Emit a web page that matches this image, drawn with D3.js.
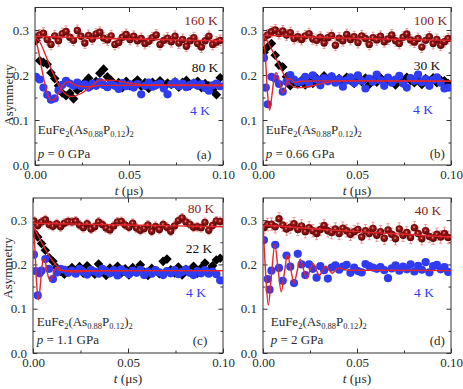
<!DOCTYPE html>
<html><head><meta charset="utf-8">
<script src="https://cdn.jsdelivr.net/npm/d3@7"></script>
<style>body{margin:0;background:#fff}svg{display:block}text{font-family:"Liberation Serif","Times New Roman",serif}</style>
</head><body>
<svg id="c" width="463" height="389"></svg>
<script>
// ---------- DATA ----------
const times = [0.0005,0.0025,0.0045,0.0065,0.0085,0.0105,0.0125,0.0145,0.0165,0.0185,0.0205,0.0225,0.0245,0.0265,0.0285,0.0305,0.0325,0.0345,0.0365,0.0385,0.0405,0.0425,0.0445,0.0465,0.0485,0.0505,0.0525,0.0545,0.0565,0.0585,0.0605,0.0625,0.0645,0.0665,0.0685,0.0705,0.0725,0.0745,0.0765,0.0785,0.0805,0.0825,0.0845,0.0865,0.0885,0.0905,0.0925,0.0945,0.0965,0.0985];
const xTicks = [0, 0.05, 0.1];
const xMinor = [0.025, 0.075];
const yTicks = [0, 0.1, 0.2, 0.3];
const yMinor = [0.05, 0.15, 0.25];

// panel (a) p = 0 GPa
const a160 = [0.284,0.289,0.293,0.279,0.268,0.287,0.276,0.292,0.297,0.284,0.277,0.299,0.286,0.271,0.288,0.280,0.291,0.295,0.282,0.278,0.287,0.268,0.272,0.284,0.290,0.279,0.286,0.276,0.281,0.270,0.275,0.283,0.289,0.268,0.277,0.282,0.274,0.286,0.271,0.279,0.264,0.276,0.283,0.270,0.262,0.276,0.286,0.268,0.273,0.277];
const a80 = [0.276,0.232,0.228,0.224,0.205,0.192,0.176,0.160,0.154,0.160,0.147,0.166,0.172,0.184,0.193,0.178,0.186,0.204,0.213,0.196,0.188,0.177,0.183,0.172,0.186,0.176,0.181,0.189,0.175,0.183,0.170,0.184,0.178,0.187,0.174,0.182,0.179,0.185,0.173,0.184,0.188,0.176,0.182,0.186,0.172,0.181,0.176,0.168,0.156,0.194];
const a4 = [0.196,0.190,0.172,0.156,0.145,0.148,0.166,0.178,0.187,0.181,0.176,0.183,0.175,0.179,0.172,0.181,0.176,0.184,0.178,0.173,0.180,0.176,0.169,0.182,0.175,0.179,0.172,0.180,0.157,0.176,0.183,0.174,0.178,0.181,0.170,0.157,0.179,0.184,0.175,0.181,0.173,0.178,0.182,0.176,0.180,0.171,0.165,0.177,0.181,0.175];
const fitA160T = [0, 0.025, 0.05, 0.075, 0.1];
const fitA160V = [0.286, 0.283, 0.280, 0.278, 0.276];
const fitA80T = [0, 0.003, 0.006, 0.01, 0.014, 0.0195, 0.025, 0.03, 0.0346, 0.042, 0.05, 0.06, 0.1];
const fitA80V = [0.286, 0.270, 0.240, 0.200, 0.168, 0.152, 0.160, 0.175, 0.189, 0.188, 0.182, 0.178, 0.178];
const fitA4T = [0, 0.002, 0.004, 0.0065, 0.0088, 0.0115, 0.014, 0.0176, 0.0226, 0.028, 0.035, 0.05, 0.1];
const fitA4V = [0.286, 0.250, 0.205, 0.160, 0.143, 0.152, 0.172, 0.185, 0.176, 0.174, 0.177, 0.177, 0.176];

// panel (b) p = 0.66 GPa
const b100 = [0.283,0.289,0.296,0.300,0.292,0.298,0.289,0.294,0.281,0.285,0.279,0.287,0.292,0.280,0.277,0.284,0.271,0.283,0.288,0.266,0.282,0.276,0.290,0.279,0.285,0.272,0.287,0.281,0.268,0.283,0.278,0.286,0.274,0.280,0.289,0.276,0.270,0.284,0.291,0.278,0.273,0.281,0.262,0.277,0.285,0.270,0.279,0.266,0.274,0.281];
const b30 = [0.250,0.262,0.270,0.244,0.222,0.218,0.196,0.176,0.185,0.180,0.188,0.178,0.186,0.181,0.193,0.187,0.198,0.190,0.196,0.186,0.192,0.183,0.195,0.188,0.181,0.190,0.185,0.193,0.179,0.189,0.184,0.194,0.182,0.190,0.186,0.178,0.191,0.184,0.195,0.188,0.183,0.190,0.179,0.192,0.186,0.194,0.183,0.189,0.187,0.181];
const b4 = [0.238,0.135,0.196,0.192,0.180,0.163,0.185,0.200,0.190,0.184,0.186,0.196,0.181,0.199,0.190,0.177,0.193,0.186,0.197,0.183,0.191,0.174,0.188,0.195,0.182,0.199,0.187,0.170,0.192,0.185,0.201,0.188,0.176,0.194,0.183,0.190,0.198,0.181,0.172,0.193,0.187,0.201,0.184,0.191,0.176,0.189,0.195,0.183,0.170,0.172];
const b4ExtraT = [0.0015];
const b4ExtraV = [0.172];
const fitB100T = [0, 0.01, 0.03, 0.05, 0.075, 0.1];
const fitB100V = [0.288, 0.287, 0.284, 0.281, 0.279, 0.277];
const fitB30T = [0, 0.003, 0.006, 0.01, 0.014, 0.018, 0.024, 0.032, 0.042, 0.06, 0.1];
const fitB30V = [0.288, 0.270, 0.245, 0.210, 0.182, 0.172, 0.174, 0.182, 0.187, 0.187, 0.186];
const fitB4T = [0, 0.0012, 0.0024, 0.0035, 0.0046, 0.0058, 0.007, 0.0088, 0.0105, 0.012, 0.0135, 0.0152, 0.017, 0.02, 0.03, 0.1];
const fitB4V = [0.288, 0.245, 0.160, 0.122, 0.150, 0.190, 0.205, 0.185, 0.160, 0.172, 0.192, 0.190, 0.183, 0.186, 0.187, 0.186];

// panel (c) p = 1.1 GPa
const c80 = [0.298,0.288,0.296,0.301,0.290,0.286,0.292,0.285,0.293,0.297,0.296,0.298,0.289,0.283,0.292,0.280,0.285,0.296,0.290,0.282,0.278,0.287,0.296,0.297,0.289,0.284,0.293,0.282,0.277,0.281,0.289,0.275,0.286,0.279,0.290,0.284,0.275,0.287,0.299,0.305,0.296,0.291,0.284,0.285,0.283,0.295,0.277,0.288,0.298,0.297];
const c22 = [0.272,0.262,0.247,0.232,0.215,0.207,0.193,0.184,0.178,0.186,0.193,0.183,0.195,0.180,0.197,0.186,0.178,0.201,0.189,0.175,0.192,0.184,0.196,0.181,0.190,0.176,0.193,0.187,0.199,0.183,0.175,0.191,0.186,0.179,0.207,0.212,0.188,0.181,0.194,0.176,0.189,0.185,0.196,0.180,0.192,0.203,0.186,0.197,0.210,0.214];
const c4 = [0.222,0.130,0.186,0.212,0.190,0.167,0.182,0.190,0.188,0.181,0.186,0.179,0.190,0.183,0.177,0.188,0.184,0.179,0.190,0.185,0.180,0.187,0.175,0.189,0.183,0.178,0.186,0.181,0.188,0.176,0.184,0.179,0.187,0.182,0.176,0.185,0.180,0.187,0.178,0.183,0.189,0.181,0.176,0.185,0.180,0.187,0.179,0.184,0.178,0.164];
const c4ExtraT = [0.0015, 0.0035];
const c4ExtraV = [0.185, 0.180];
const fitC80T = [0, 0.05, 0.1];
const fitC80V = [0.293, 0.289, 0.285];
const fitC22T = [0, 0.003, 0.006, 0.009, 0.012, 0.015, 0.018, 0.022, 0.03, 0.06, 0.1];
const fitC22V = [0.287, 0.262, 0.238, 0.216, 0.199, 0.188, 0.184, 0.183, 0.185, 0.186, 0.186];
const fitC4T = [0, 0.001, 0.002, 0.0028, 0.0038, 0.0046, 0.0055, 0.0065, 0.0075, 0.009, 0.0105, 0.012, 0.014, 0.02, 0.1];
const fitC4V = [0.290, 0.235, 0.150, 0.120, 0.150, 0.190, 0.213, 0.205, 0.182, 0.163, 0.175, 0.193, 0.186, 0.186, 0.186];

// panel (d) p = 2 GPa
const d40 = [0.283,0.290,0.291,0.285,0.303,0.289,0.280,0.284,0.292,0.279,0.287,0.274,0.283,0.276,0.270,0.279,0.288,0.276,0.272,0.280,0.270,0.282,0.276,0.268,0.274,0.279,0.262,0.276,0.270,0.281,0.266,0.274,0.259,0.278,0.268,0.258,0.280,0.266,0.272,0.261,0.283,0.270,0.258,0.276,0.263,0.259,0.268,0.262,0.270,0.261];
const d4 = [0.255,0.167,0.186,0.244,0.192,0.163,0.220,0.195,0.158,0.224,0.200,0.176,0.200,0.190,0.170,0.196,0.187,0.168,0.193,0.198,0.188,0.195,0.199,0.181,0.193,0.185,0.182,0.201,0.196,0.193,0.190,0.194,0.187,0.169,0.191,0.198,0.186,0.195,0.189,0.200,0.184,0.197,0.188,0.205,0.182,0.196,0.199,0.189,0.194,0.183];
const d4ExtraT = [0.0035];
const d4ExtraV = [0.143];
const fitD40T = [0, 0.001, 0.025, 0.05, 0.075, 0.1];
const fitD40V = [0.287, 0.288, 0.281, 0.274, 0.268, 0.262];
const fitD4T = [0, 0.0014, 0.0028, 0.00455, 0.0063, 0.008, 0.0097, 0.01135, 0.013, 0.01475, 0.0165, 0.01815, 0.0198, 0.0215, 0.0232, 0.0249, 0.0266, 0.0283, 0.030, 0.0317, 0.0334, 0.0351, 0.0368, 0.0384, 0.040, 0.045, 0.06, 0.1];
const fitD4V = [0.287, 0.180, 0.108, 0.178, 0.245, 0.190, 0.138, 0.180, 0.222, 0.190, 0.157, 0.185, 0.212, 0.190, 0.168, 0.186, 0.202, 0.188, 0.175, 0.186, 0.196, 0.188, 0.180, 0.186, 0.192, 0.187, 0.187, 0.186];

// ---------- DRAW ----------
const svg = d3.select("#c");
const defs = svg.append("defs");
const grad = defs.append("radialGradient").attr("id","sph").attr("cx","45%").attr("cy","42%").attr("r","60%");
grad.append("stop").attr("offset","0%").attr("stop-color","#e8a0a0");
grad.append("stop").attr("offset","30%").attr("stop-color","#9a1616");
grad.append("stop").attr("offset","100%").attr("stop-color","#520404");

const zip = (t, v) => t.map((d, i) => ({t: d, v: v[i]}));
const RED = "#e3262b", DARKRED = "#8e1a1a", BLUE = "#2f3cf2", TXT = "#2a2a2a";

const panels = [
  {x0:35, x1:223, yb:165, yt:7.5, id:"(a)", p:" = 0 GPa", showY:true, asymX:12.5, asymY:95,
   fx:37.7, fy:133.5, py:158, idx:204, temps:[["160 K",201,25.2,DARKRED],["80 K",205,71.5,"#111"],["4 K",200,114.5,BLUE]],
   red:a160, black:a80, blue:a4, err:0.012,
   fits:[[fitA160T,fitA160V],[fitA80T,fitA80V],[fitA4T,fitA4V]]},
  {x0:263, x1:451, yb:165, yt:7.5, id:"(b)", p:" = 0.66 GPa", showY:false,
   fx:265.7, fy:134, py:157.5, idx:437.3, temps:[["100 K",430.5,25.2,DARKRED],["30 K",427,70.2,"#111"],["4 K",423,113.8,BLUE]],
   red:b100, black:b30, blue:b4, blueExtra:[b4ExtraT,b4ExtraV], err:0.012,
   fits:[[fitB100T,fitB100V],[fitB30T,fitB30V],[fitB4T,fitB4V]]},
  {x0:33, x1:223, yb:353, yt:198, id:"(c)", p:" = 1.1 GPa", showY:true, asymX:12, asymY:268,
   fx:36.7, fy:326, py:344, idx:200, temps:[["80 K",201,212.8,DARKRED],["22 K",199,252.8,"#111"],["4 K",196,296.8,BLUE]],
   red:c80, black:c22, blue:c4, blueExtra:[c4ExtraT,c4ExtraV], err:0.010,
   fits:[[fitC80T,fitC80V],[fitC22T,fitC22V],[fitC4T,fitC4V]]},
  {x0:263, x1:451, yb:353, yt:198, id:"(d)", p:" = 2 GPa", showY:false,
   fx:270.7, fy:326, py:344, idx:437.3, temps:[["40 K",428,214.5,DARKRED],["4 K",424,296.8,BLUE]],
   red:d40, black:null, blue:d4, blueExtra:[d4ExtraT,d4ExtraV], err:0.014,
   fits:[[fitD40T,fitD40V],[fitD4T,fitD4V]]}
];

function styleAxis(g, labels) {
  g.select(".domain").remove();
  g.selectAll(".tick line").attr("stroke", "#333").attr("stroke-width", 1);
  g.selectAll("text").attr("font-family", '"Liberation Serif", serif').attr("font-size", 13).attr("fill", TXT);
  if (!labels) g.selectAll("text").remove();
}

panels.forEach(P => {
  const x = d3.scaleLinear().domain([0, 0.1]).range([P.x0, P.x1]);
  const y = d3.scaleLinear().domain([0, 0.35]).range([P.yb, P.yt]);
  const g = svg.append("g");
  const clipId = "clip" + P.id.replace(/\W/g, "");
  defs.append("clipPath").attr("id", clipId).append("rect")
    .attr("x", P.x0).attr("y", P.yt).attr("width", P.x1 - P.x0).attr("height", P.yb - P.yt);

  // axes: major & minor, inward, on all sides
  g.append("g").attr("transform", `translate(0,${P.yb})`)
    .call(d3.axisBottom(x).tickValues(xTicks).tickFormat(d3.format(".2f")).tickSize(-4.5).tickPadding(5))
    .call(a => styleAxis(a, true));
  g.append("g").attr("transform", `translate(0,${P.yb})`)
    .call(d3.axisBottom(x).tickValues(xMinor).tickSize(-2.5)).call(a => styleAxis(a, false));
  g.append("g").attr("transform", `translate(0,${P.yt})`)
    .call(d3.axisTop(x).tickValues(xTicks).tickSize(-4.5)).call(a => styleAxis(a, false));
  g.append("g").attr("transform", `translate(0,${P.yt})`)
    .call(d3.axisTop(x).tickValues(xMinor).tickSize(-2.5)).call(a => styleAxis(a, false));
  g.append("g").attr("transform", `translate(${P.x0},0)`)
    .call(d3.axisLeft(y).tickValues(yTicks).tickFormat(d3.format(".1f")).tickSize(-4.5).tickPadding(6))
    .call(a => styleAxis(a, true));
  g.append("g").attr("transform", `translate(${P.x0},0)`)
    .call(d3.axisLeft(y).tickValues(yMinor).tickSize(-2.5)).call(a => styleAxis(a, false));
  g.append("g").attr("transform", `translate(${P.x1},0)`)
    .call(d3.axisRight(y).tickValues(yTicks).tickSize(-4.5)).call(a => styleAxis(a, false));
  g.append("g").attr("transform", `translate(${P.x1},0)`)
    .call(d3.axisRight(y).tickValues(yMinor).tickSize(-2.5)).call(a => styleAxis(a, false));

  g.append("rect").attr("x", P.x0).attr("y", P.yt).attr("width", P.x1 - P.x0).attr("height", P.yb - P.yt)
    .attr("fill", "none").attr("stroke", "#333").attr("stroke-width", 1);

  const plot = g.append("g").attr("clip-path", `url(#${clipId})`);

  // red series with error bars
  const redPts = zip(times, P.red);
  const eb = plot.append("g").attr("stroke", "#f08a8a").attr("stroke-width", 0.9);
  redPts.forEach(d => {
    eb.append("line").attr("x1", x(d.t)).attr("x2", x(d.t)).attr("y1", y(d.v - P.err)).attr("y2", y(d.v + P.err));
    eb.append("line").attr("x1", x(d.t) - 1.5).attr("x2", x(d.t) + 1.5).attr("y1", y(d.v - P.err)).attr("y2", y(d.v - P.err));
    eb.append("line").attr("x1", x(d.t) - 1.5).attr("x2", x(d.t) + 1.5).attr("y1", y(d.v + P.err)).attr("y2", y(d.v + P.err));
  });
  plot.append("g").selectAll("circle").data(redPts).join("circle")
    .attr("cx", d => x(d.t)).attr("cy", d => y(d.v)).attr("r", 3.7).attr("fill", "url(#sph)");

  // black diamonds
  if (P.black) {
    plot.append("g").selectAll("path").data(zip(times, P.black)).join("path")
      .attr("d", "M0,-4.8L4.8,0L0,4.8L-4.8,0Z").attr("fill", "#000")
      .attr("transform", d => `translate(${x(d.t)},${y(d.v)})`);
  }
  // blue circles
  let bluePts = zip(times, P.blue);
  if (P.blueExtra) bluePts = bluePts.concat(zip(P.blueExtra[0], P.blueExtra[1]));
  plot.append("g").selectAll("circle").data(bluePts).join("circle")
    .attr("cx", d => x(d.t)).attr("cy", d => y(d.v)).attr("r", 4.1).attr("fill", BLUE);

  // fits
  const line = d3.line().x(d => x(d.t)).y(d => y(d.v)).curve(d3.curveMonotoneX);
  P.fits.forEach(([ft, fv]) => {
    plot.append("path").datum(zip(ft, fv)).attr("d", line)
      .attr("fill", "none").attr("stroke", RED).attr("stroke-width", 1.4);
  });

  // texts
  P.temps.forEach(([s, tx, ty, col]) => {
    g.append("text").attr("x", tx).attr("y", ty).attr("text-anchor", "middle")
      .attr("font-size", 13.5).attr("fill", col).text(s);
  });
  const f = g.append("text").attr("x", P.fx).attr("y", P.fy).attr("font-size", 13).attr("fill", TXT);
  let cur = 0;
  [["EuFe",0],["2",1],["(As",0],["0.88",1],["P",0],["0.12",1],[")",0],["2",1]].forEach(([s, sub]) => {
    const target = sub ? 3 : 0;
    f.append("tspan").attr("dy", target - cur).attr("font-size", sub ? 8.5 : 13).text(s);
    cur = target;
  });
  const pt = g.append("text").attr("x", P.fx).attr("y", P.py).attr("font-size", 13).attr("fill", TXT);
  pt.append("tspan").attr("font-style", "italic").text("p");
  pt.append("tspan").text(P.p);
  g.append("text").attr("x", P.idx).attr("y", P.py + 0.5).attr("text-anchor", "middle")
    .attr("font-size", 13).attr("fill", TXT).text(P.id);

  const xt = g.append("text").attr("x", (P.x0 + P.x1) / 2).attr("y", P.yb + 30).attr("text-anchor", "middle")
    .attr("font-size", 13.5).attr("fill", TXT);
  xt.append("tspan").attr("font-style", "italic").text("t");
  xt.append("tspan").text(" (μs)");

  if (P.showY) {
    g.append("text").attr("transform", `translate(${P.asymX},${P.asymY}) rotate(-90)`)
      .attr("text-anchor", "middle").attr("font-size", 13).attr("fill", TXT).text("Asymmetry");
  }
});
</script>
</body></html>
